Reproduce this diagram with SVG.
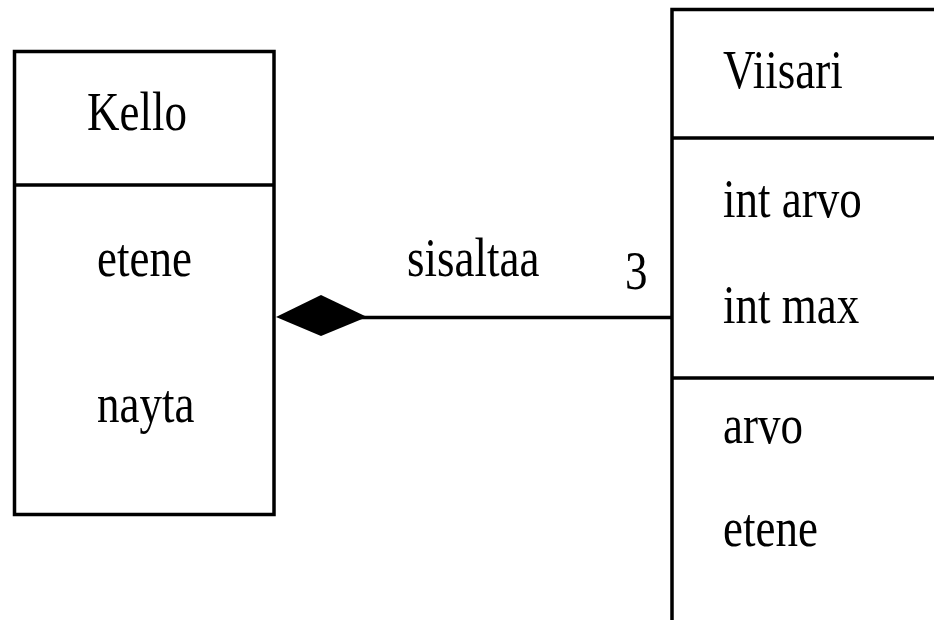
<svg xmlns="http://www.w3.org/2000/svg" width="934" height="620" viewBox="0 0 934 620">
<style>
.box{fill:#fff;stroke:#000;stroke-width:3.5}
.ln{fill:none;stroke:#000;stroke-width:3.5}
.t{font-family:"Liberation Serif","Times New Roman",serif;font-size:45px;fill:#000}
</style>
<rect width="934" height="620" fill="#fff"/>
<g id="Kello">
<rect class="box" x="14.5" y="51.5" width="259.5" height="463"/>
<line class="ln" x1="14.5" y1="185" x2="274" y2="185"/>
<text class="t" transform="translate(87,130) scale(1,1.24)">Kello</text>
<text class="t" transform="translate(97,276) scale(1,1.24)">etene</text>
<text class="t" transform="translate(97,422) scale(1,1.24)">nayta</text>
</g>
<g id="Viisari">
<path class="box" d="M672,640 V9.5 H950"/>
<line class="ln" x1="672" y1="138" x2="950" y2="138"/>
<line class="ln" x1="672" y1="378" x2="950" y2="378"/>
<text class="t" transform="translate(723,88) scale(1,1.24)">Viisari</text>
<text class="t" transform="translate(723,216.5) scale(1,1.24)">int arvo</text>
<text class="t" transform="translate(723,323) scale(1,1.24)">int max</text>
<text class="t" transform="translate(723,442.5) scale(1,1.24)">arvo</text>
<text class="t" transform="translate(723,545.5) scale(1,1.24)">etene</text>
</g>
<g id="connectors">
<line class="ln" x1="360" y1="317.5" x2="672" y2="317.5"/>
<polygon points="276,317 321,295 367,317 321,336" fill="#000"/>
<text class="t" transform="translate(407,276) scale(1,1.24)">sisaltaa</text>
<text class="t" transform="translate(625,289) scale(1,1.24)">3</text>
</g>
</svg>
